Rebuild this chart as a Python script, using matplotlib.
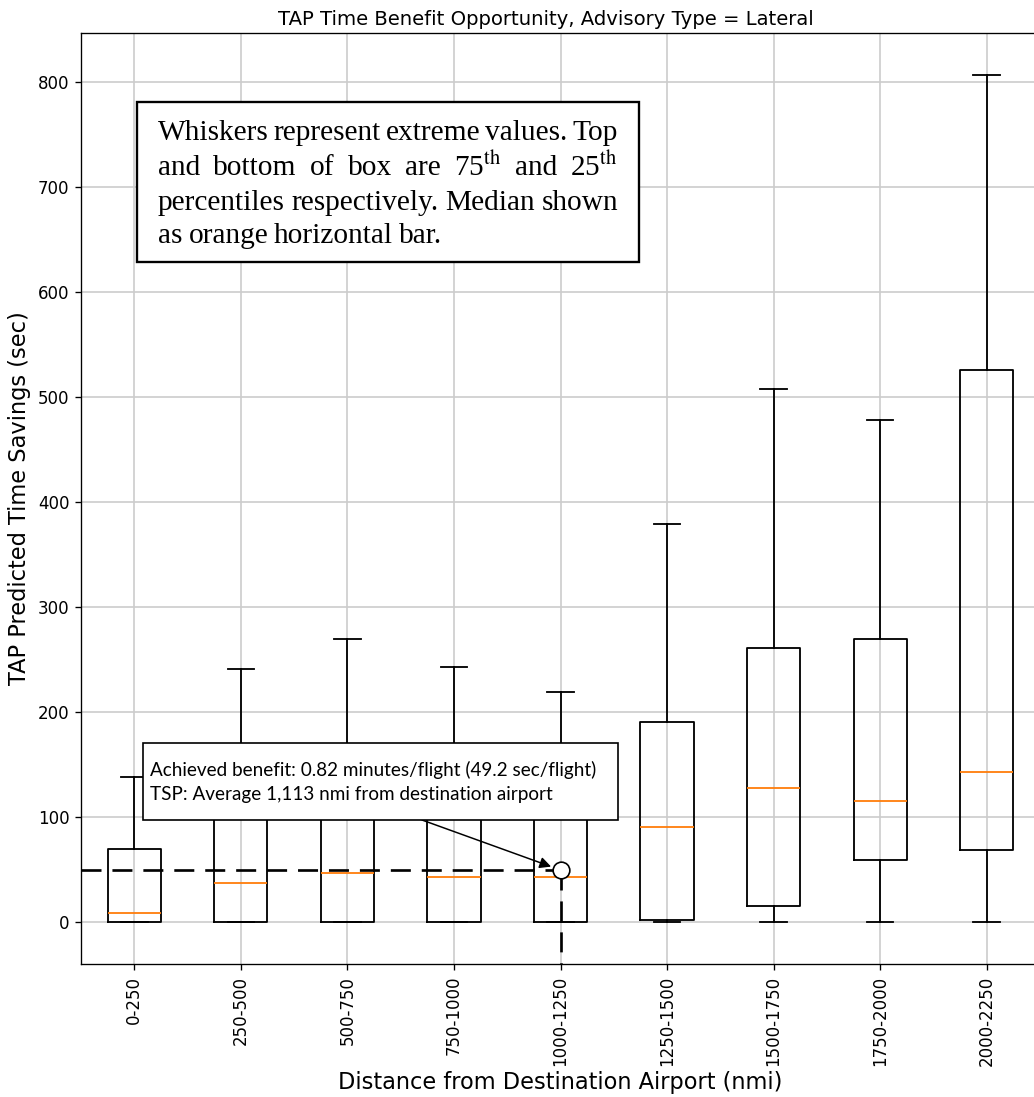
import numpy as np
import matplotlib.pyplot as plt
import matplotlib.patches as mpatches

plt.rcParams['font.family'] = ['DejaVu Sans']
plt.rcParams['mathtext.fontset'] = 'stix'

# distance bins (nmi) and box statistics (sec)
bin_labels = ['0-250', '250-500', '500-750', '750-1000', '1000-1250',
              '1250-1500', '1500-1750', '1750-2000', '2000-2250']
bin_edges = [0, 250, 500, 750, 1000, 1250, 1500, 1750, 2000, 2250]
whis_lo = [0, 0, 0, 0, 0, 0, 0, 0, 0]
q1 = [0, 0, 0, 0, 0, 1.5, 14.6, 59, 68]
med = [8.5, 37, 46, 43, 43, 90, 127, 115, 143]
q3 = [69, 160, 165, 155, 140, 190, 261, 269, 525]
whis_hi = [138, 241, 269, 243, 219, 379, 507, 478, 806]

# achieved benefit
achieved_sec = 49.2
achieved_min = 0.82
tsp_nmi = 1113

W, H, DPI = 1034, 1097, 120
fig = plt.figure(figsize=(W / DPI, H / DPI), dpi=DPI)
ax_l, ax_r, ax_t, ax_b = 81, 1040, 33, 964
ax = fig.add_axes([ax_l / W, (H - ax_b) / H, (ax_r - ax_l) / W, (ax_b - ax_t) / H])

stats = []
for i in range(len(bin_labels)):
    stats.append(dict(label=bin_labels[i], whislo=whis_lo[i], q1=q1[i],
                      med=med[i], q3=q3[i], whishi=whis_hi[i], fliers=[]))

ax.bxp(stats, showfliers=False,
       boxprops=dict(color='black', lw=1.1),
       whiskerprops=dict(color='black', lw=1.1),
       capprops=dict(color='black', lw=1.1),
       medianprops=dict(color='#ff7f0e', lw=1.1))

ymax = max(whis_hi)
ylo, yhi = -0.05 * ymax, 1.05 * ymax
ax.set_ylim(ylo, yhi)
ax.set_xlim(0.5, len(bin_labels) + 0.5)
ax.grid(True, color='#cccccc', lw=1.0)
ax.set_axisbelow(True)
ax.tick_params(axis='x', labelrotation=90, labelsize=10)
ax.tick_params(axis='y', labelsize=10)
ax.set_title('TAP Time Benefit Opportunity, Advisory Type = Lateral', fontsize=11.8,
             x=(546 - ax_l) / (ax_r - ax_l), pad=5)
ax.set_xlabel('Distance from Destination Airport (nmi)', fontsize=13.5)
ax.set_ylabel('TAP Predicted Time Savings (sec)', fontsize=13.5)
ax.xaxis.set_label_coords((560 - ax_l) / (ax_r - ax_l), (ax_b - 1071) / (ax_b - ax_t))
ax.yaxis.set_label_coords((20 - ax_l) / (ax_r - ax_l), 0.5)
ax.yaxis.label.set_va('center')

# achieved benefit marker with dashed guides
xb = np.searchsorted(bin_edges, tsp_nmi)
dash = (0, (7.5, 4.1))
ax.plot([0.5, xb], [achieved_sec, achieved_sec], color='black', lw=1.6, ls=dash, zorder=4)
ax.plot([xb, xb], [achieved_sec, ylo], color='black', lw=1.6, ls=dash, zorder=4, clip_on=False)
ax.plot([xb], [achieved_sec], 'o', ms=10, mfc='white', mec='black', mew=1.0, zorder=6)


def px(x, y):
    return x / W, 1 - y / H


# explanatory note in the upper left
fig.add_artist(mpatches.Rectangle(px(137, 262), (639 - 137) / W, (262 - 102) / H,
                                  transform=fig.transFigure, facecolor='white',
                                  edgecolor='black', lw=1.4, zorder=5))
serif = dict(family='Liberation Serif', fontsize=17.6, zorder=6, va='baseline')
note_lines = [
    (['Whiskers', 'represent', 'extreme', 'values.', 'Top'], True),
    (['and', 'bottom', 'of', 'box', 'are', r'75$^{\mathrm{th}}$', 'and', r'25$^{\mathrm{th}}$'], True),
    (['percentiles', 'respectively.', 'Median', 'shown'], True),
    (['as', 'orange', 'horizontal', 'bar.'], False),
]
x0, x1 = 158, 618
baselines = [140, 175, 210, 243]
fig.canvas.draw()
renderer = fig.canvas.get_renderer()
for (words, justify), yb in zip(note_lines, baselines):
    texts = [fig.text(0, 1 - yb / H, w, **serif) for w in words]
    widths = [t.get_window_extent(renderer).width for t in texts]
    space = 6.0
    if justify and len(words) > 1:
        space = (x1 - x0 - sum(widths)) / (len(words) - 1)
    xpos = x0
    for t, wd in zip(texts, widths):
        t.set_x(xpos / W)
        xpos += wd + space

# achieved benefit callout
fig.add_artist(mpatches.Rectangle(px(143, 820), (618 - 143) / W, (820 - 743) / H,
                                  transform=fig.transFigure, facecolor='white',
                                  edgecolor='black', lw=1.0, zorder=5))
fig.text(150 / W, 1 - 776 / H,
         'Achieved benefit: %.2f minutes/flight (%.1f sec/flight)' % (achieved_min, achieved_sec),
         family='Lato', fontsize=11.3, zorder=6, va='baseline')
fig.text(150 / W, 1 - 800 / H,
         'TSP: Average {:,} nmi from destination airport'.format(tsp_nmi),
         family='Lato', fontsize=11.3, zorder=6, va='baseline')
ax.annotate('', xy=(xb, achieved_sec), xycoords='data',
            xytext=px(422, 820), textcoords='figure fraction',
            arrowprops=dict(arrowstyle='-|>', color='black', lw=0.9,
                            shrinkA=0, shrinkB=6, mutation_scale=14),
            zorder=7)

fig.savefig('out.png', dpi=DPI)
